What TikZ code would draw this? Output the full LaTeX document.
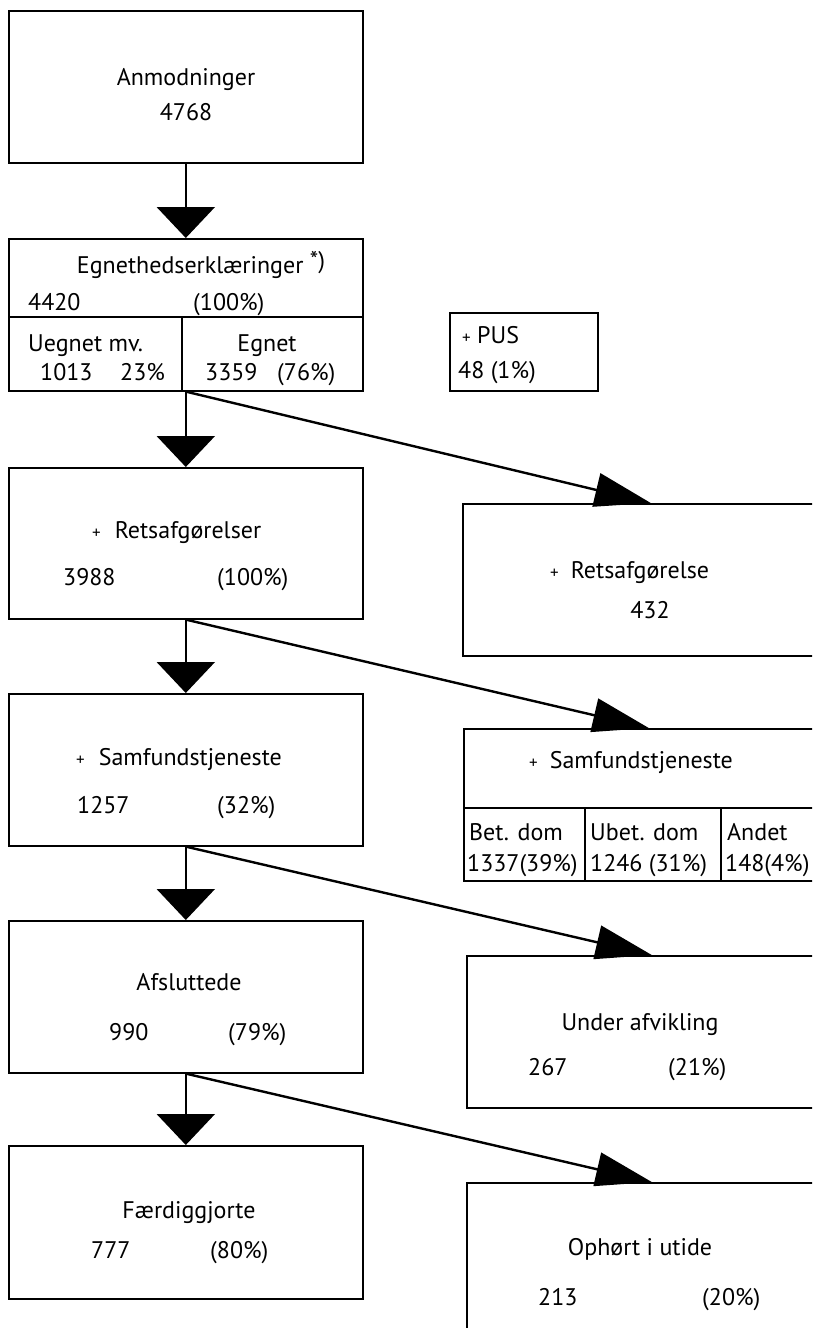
\documentclass[tikz,border=0pt]{standalone}
\usepackage{fontspec}
\setmainfont{PT Sans}
\usetikzlibrary{arrows.meta}

\newcommand{\pl}{{\fontsize{17}{17}\selectfont +}}

\begin{document}
\begin{tikzpicture}[x=1pt,y=-1pt,
  every node/.style={font=\fontsize{24}{28}\selectfont,inner sep=0},
  box/.style={draw,line width=1.6pt,anchor=north west},
  txt/.style={anchor=base},
  txtl/.style={anchor=base west},
  down/.style={line width=2.4pt,-{Triangle[width=58pt,length=31pt]}},
  side/.style={line width=2.4pt,-{Triangle[width=34pt,length=56pt]}}]
  \useasboundingbox[fill=white] (0,0) rectangle (812,1328);
  \clip (0,0) rectangle (812,1328);

  \node[box,minimum width=354pt,minimum height=152pt] (anm) at (8,10) {};
  \node[txt] (anm1) at (186,85) {Anmodninger};
  \node[txt] (anm2) at (186,120) {4768};

  \node[box,minimum width=354pt,minimum height=152pt] (egn) at (8,238) {};
  \coordinate (egnl) at (8,317);
  \coordinate (egnr) at (362,317);
  \coordinate (egnm) at (182,317);
  \draw[line width=1.6pt] (egnl) -- (egnr) (egnm) -- (egnm |- egn.south);
  \node[txt] (egn1) at (201,273) {Egnethedserklæringer \raisebox{5pt}{*)}};
  \node[txtl] (egn2) at (28,310) {4420};
  \node[txtl] (egn3) at (193,310) {(100\%)};
  \node[txtl] (ueg1) at (28,351) {Uegnet mv.};
  \node[txtl] (ueg2) at (40,380) {1013};
  \node[txtl] (ueg3) at (120,380) {23\%};
  \node[txt] (egt1) at (267,351) {Egnet};
  \node[txtl] (egt2) at (205,380) {3359};
  \node[txtl] (egt3) at (277,380) {(76\%)};

  \node[box,minimum width=148pt,minimum height=78pt] (pus) at (449,312) {};
  \node[txtl] (pus1) at (462,343) {\pl\ PUS};
  \node[txtl] (pus2) at (458,378) {48 (1\%)};

  \node[box,minimum width=354pt,minimum height=151pt] (ret) at (8,467) {};
  \node[txtl] (ret1) at (92,538) {\pl\hspace{14pt}Retsafgørelser};
  \node[txtl] (ret2) at (63,585) {3988};
  \node[txtl] (ret3) at (217,585) {(100\%)};

  \node[box,minimum width=376pt,minimum height=152pt] (rsa) at (462,503) {};
  \node[txtl] (rsa1) at (550,578) {\pl\hspace{12pt}Retsafgørelse};
  \node[txt] (rsa2) at (650,618) {432};

  \node[box,minimum width=354pt,minimum height=152pt] (sam) at (8,693) {};
  \node[txtl] (sam1) at (76,765) {\pl\hspace{14pt}Samfundstjeneste};
  \node[txtl] (sam2) at (77,813) {1257};
  \node[txtl] (sam3) at (217,813) {(32\%)};

  \node[box,minimum width=370pt,minimum height=152pt] (sdo) at (463,728) {};
  \coordinate (sdol) at (463,808);
  \coordinate (sdor) at (833,808);
  \coordinate (sdoa) at (585,808);
  \coordinate (sdob) at (721,808);
  \draw[line width=1.6pt] (sdol) -- (sdor) (sdoa) -- (sdoa |- sdo.south) (sdob) -- (sdob |- sdo.south);
  \node[txtl] (sdo1) at (529,768) {\pl\hspace{12pt}Samfundstjeneste};
  \node[txtl] (bet1) at (469,840) {Bet. dom};
  \node[txtl] (bet2) at (467,871) {1337(39\%)};
  \node[txtl] (ube1) at (590,840) {Ubet. dom};
  \node[txtl] (ube2) at (590,871) {1246 (31\%)};
  \node[txtl] (and1) at (727,840) {Andet};
  \node[txtl] (and2) at (725,871) {148(4\%)};

  \node[box,minimum width=354pt,minimum height=152pt] (afs) at (8,920) {};
  \node[txt] (afs1) at (189,990) {Afsluttede};
  \node[txtl] (afs2) at (109,1040) {990};
  \node[txtl] (afs3) at (228,1040) {(79\%)};

  \node[box,minimum width=370pt,minimum height=152pt] (afv) at (466,955) {};
  \node[txt] (afv1) at (640,1030) {Under afvikling};
  \node[txtl] (afv2) at (528,1075) {267};
  \node[txtl] (afv3) at (668,1075) {(21\%)};

  \node[box,minimum width=354pt,minimum height=153pt] (fae) at (8,1145) {};
  \node[txt] (fae1) at (189,1218) {Færdiggjorte};
  \node[txtl] (fae2) at (91,1258) {777};
  \node[txtl] (fae3) at (210,1258) {(80\%)};

  \node[box,minimum width=370pt,minimum height=200pt] (oph) at (466,1182) {};
  \node[txt] (oph1) at (640,1255) {Ophørt i utide};
  \node[txtl] (oph2) at (538,1305) {213};
  \node[txtl] (oph3) at (702,1305) {(20\%)};

  \draw[down] (anm.south) -- (egn.north);
  \draw[down] (egn.south) -- (ret.north);
  \draw[down] (ret.south) -- (sam.north);
  \draw[down] (sam.south) -- (afs.north);
  \draw[down] (afs.south) -- (fae.north);
  \draw[side] (egn.south) -- (rsa.north);
  \draw[side] (ret.south) -- (sdo.north);
  \draw[side] (sam.south) -- (afv.north);
  \draw[side] (afs.south) -- (oph.north);
\end{tikzpicture}
\end{document}
